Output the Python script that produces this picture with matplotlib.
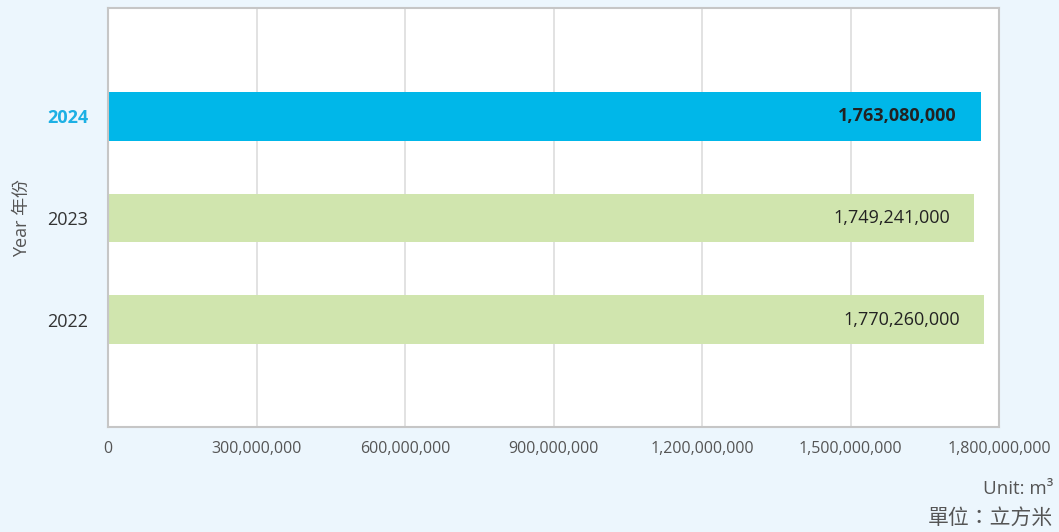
import matplotlib.pyplot as plt
from matplotlib.ticker import FuncFormatter

# data
years = ['2022', '2023', '2024']
volumes = [1770260000, 1749241000, 1763080000]
bar_colors = ['#d0e5ae', '#d0e5ae', '#00b7e9']
x_ticks = [0, 300000000, 600000000, 900000000, 1200000000, 1500000000, 1800000000]

plt.rcParams['font.family'] = ['Open Sans', 'Noto Sans CJK TC', 'DejaVu Sans']

fig = plt.figure(figsize=(10.59, 5.32), dpi=100, facecolor='#ecf6fd')
ax = fig.add_axes([108 / 1059, 1 - 427 / 532, 891 / 1059, 419 / 532])
ax.set_facecolor('white')

pos = list(range(len(years)))
ax.barh(pos, volumes, height=0.48, color=bar_colors, zorder=2)

for i, v in enumerate(volumes):
    bold = years[i] == '2024'
    ax.text(v - 48000000, i, f'{v:,}', ha='right', va='center',
            fontsize=13, color='#222222', fontweight='bold' if bold else 'normal',
            zorder=3)

ax.set_xlim(0, 1800000000)
ax.set_ylim(-1.05, 3.06)
ax.set_xticks(x_ticks)
ax.xaxis.set_major_formatter(FuncFormatter(lambda x, p: f'{int(x):,}'))
ax.set_yticks(pos)
ax.set_yticklabels(years)
ax.tick_params(axis='x', length=0, pad=10, labelsize=11.5, labelcolor='#555555')
ax.tick_params(axis='y', length=0, pad=14, labelsize=13, labelcolor='#333333')
for lbl in ax.get_yticklabels():
    if lbl.get_text() == '2024':
        lbl.set_color('#1cb0e4')
        lbl.set_fontweight('bold')

ax.grid(axis='x', color='#dddddd', linewidth=1.2, zorder=0)
ax.set_axisbelow(True)
for s in ax.spines.values():
    s.set_color('#c6c6c6')
    s.set_linewidth(1.5)

fig.text(22 / 1059, 1 - 218 / 532, 'Year 年份', rotation=90, ha='center', va='center',
         fontsize=13, color='#555555')
fig.text(1053 / 1059, 1 - 489 / 532, 'Unit: m³', ha='right', va='center',
         fontsize=13.5, color='#555555')
fig.text(1053 / 1059, 1 - 518 / 532, '單位：立方米', ha='right', va='center',
         fontsize=15, color='#555555')

fig.savefig('out.png', dpi=100, facecolor=fig.get_facecolor())
